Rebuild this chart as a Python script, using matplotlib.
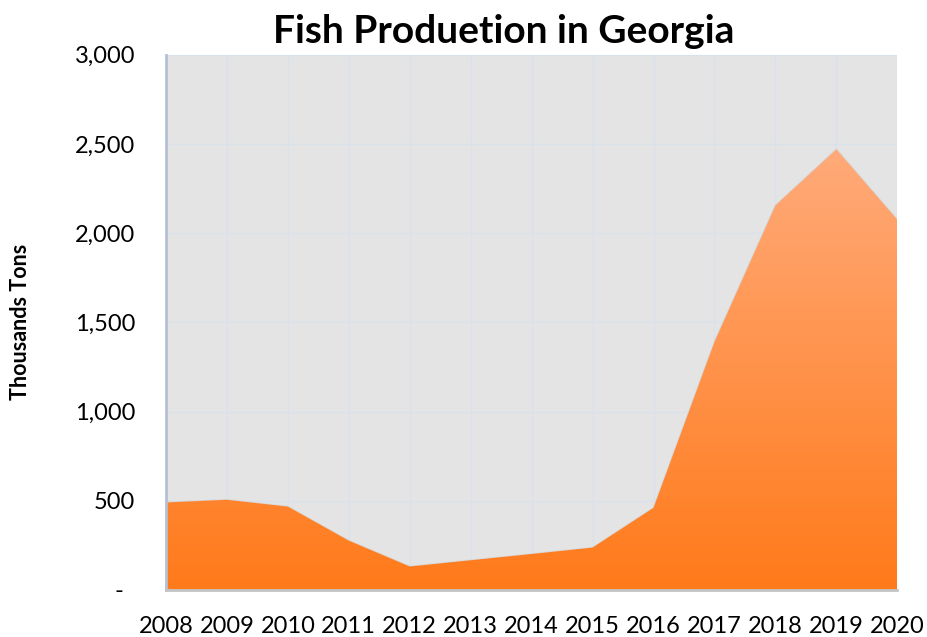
import numpy as np
import matplotlib
matplotlib.use('Agg')
from matplotlib import pyplot as plt
from matplotlib.colors import LinearSegmentedColormap
from matplotlib.ticker import FuncFormatter

years = [2008, 2009, 2010, 2011, 2012, 2013, 2014, 2015,
         2016, 2017, 2018, 2019, 2020]
production = [490, 505, 467, 276, 131, 166, 201, 237,
              460, 1390, 2155, 2470, 2075]
y_ticks = [0, 500, 1000, 1500, 2000, 2500, 3000]

plt.rcParams['font.family'] = ['Lato', 'DejaVu Sans']


def fmt_thousands(v, _pos):
    """Accounting style: dash for zero, comma separators otherwise"""
    if v == 0:
        return '-  '
    return f'{int(v):,}'


fig = plt.figure(figsize=(9.27, 6.37), dpi=100)
ax = fig.add_axes([0.179, 0.074, 0.789, 0.840])
ax.set_facecolor('#e4e4e4')

x = np.array(years, dtype=float)
y = np.array(production, dtype=float)

# area with vertical orange gradient, clipped to the filled polygon
poly = ax.fill_between(x, 0, y, color='none', zorder=2)
cmap = LinearSegmentedColormap.from_list('orange_grad', ['#ff7a1a', '#ffab7b'])
grad = np.linspace(0, 1, 256).reshape(-1, 1)
img = ax.imshow(grad, cmap=cmap, origin='lower', aspect='auto',
                extent=[x[0], x[-1], 0, 2500], zorder=2)
img.set_clip_path(poly.get_paths()[0], transform=ax.transData)
ax.plot(x, y, color='#cfcfcf', lw=1.2, alpha=0.6, zorder=1.9)

ax.set_xlim(x[0], x[-1])
ax.set_ylim(0, 3000)
ax.set_xticks(years)
ax.set_xticklabels([str(v) for v in years])
ax.set_yticks(y_ticks)
ax.yaxis.set_major_formatter(FuncFormatter(fmt_thousands))

ax.grid(True, color='#dbe1ea', lw=1.0, zorder=0)
ax.set_axisbelow(True)
ax.tick_params(axis='both', length=0, labelsize=17, colors='#000000')
ax.tick_params(axis='x', pad=19)
ax.tick_params(axis='y', pad=22)

for side in ['top', 'right']:
    ax.spines[side].set_visible(False)
ax.spines['left'].set_color('#b4c0d4')
ax.spines['left'].set_linewidth(2)
ax.spines['bottom'].set_color('#c4c4c4')
ax.spines['bottom'].set_linewidth(2)

ax.set_ylabel('Thousands Tons', fontsize=15.5, fontweight='bold')
ax.yaxis.set_label_coords(-0.185, 0.5)

fig.text(0.543, 0.950, 'Fish Produetion in Georgia', ha='center', va='center',
         fontsize=28, fontweight='bold')

fig.savefig('out.png', dpi=100)
